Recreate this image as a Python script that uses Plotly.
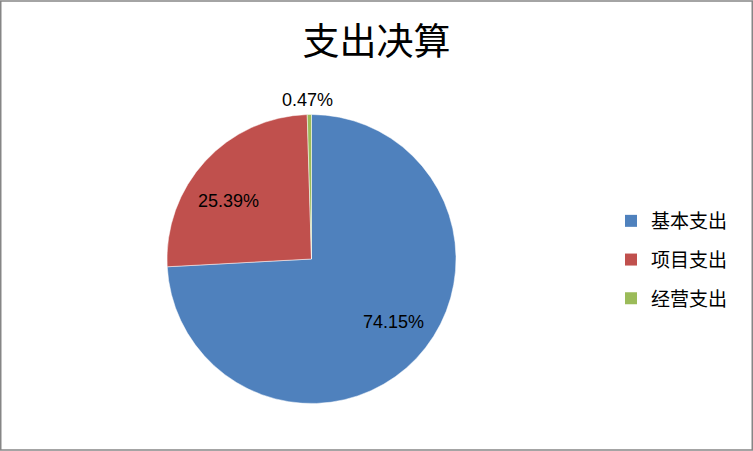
import math
import plotly.graph_objects as go

# 支出决算 data (percent of total)
labels = ["基本支出", "项目支出", "经营支出"]
values = [74.15, 25.39, 0.47]
colors = ["#4F81BD", "#C0504D", "#9BBB59"]

# label placement: distance (fraction of radius) and angular nudge (degrees)
label_radius = [0.715, 0.70, 1.10]
label_shift = [-5.6, -7.5, -0.5]

W, H = 753, 451
cjk = "Noto Sans CJK SC"
num_font = "Liberation Sans, Arial"

# pie placement (pixels)
cx, cy, R = 311.5, 259, 144.5

fig = go.Figure()

fig.add_trace(go.Pie(
    labels=labels,
    values=values,
    sort=False,
    direction="clockwise",
    rotation=0,
    marker=dict(colors=colors, line=dict(color="white", width=0.5)),
    textinfo="none",
    hoverinfo="label+percent",
    showlegend=False,
    domain=dict(x=[(cx - R) / W, (cx + R) / W], y=[1 - (cy + R) / H, 1 - (cy - R) / H]),
))

# legend entries with Excel-like spacing
for i, (lab, col) in enumerate(zip(labels, colors)):
    fig.add_trace(go.Scatter(
        x=[None], y=[None], mode="markers", name=lab,
        legendgroup=f"g{i}",
        marker=dict(symbol="square", size=12, color=col),
    ))

# data labels placed around the middle angle of each slice
total = sum(values)
annotations = []
cum = 0.0
for v, rf, sh in zip(values, label_radius, label_shift):
    mid = (cum + v / 2) / total * 2 * math.pi + math.radians(sh)
    cum += v
    px = cx + rf * R * math.sin(mid)
    py = cy - rf * R * math.cos(mid)
    annotations.append(dict(
        x=px / W, y=1 - py / H, xref="paper", yref="paper",
        xanchor="center", yanchor="middle",
        text=f"{v:.2f}%", showarrow=False,
        font=dict(family=num_font, size=18, color="black"),
    ))

fig.update_layout(
    width=W,
    height=H,
    margin=dict(l=0, r=0, t=0, b=0),
    paper_bgcolor="white",
    plot_bgcolor="white",
    xaxis=dict(visible=False),
    yaxis=dict(visible=False),
    title=dict(
        text="支出决算",
        x=0.5,
        xanchor="center",
        y=1 - 42 / H,
        yanchor="middle",
        font=dict(family=cjk, size=37, color="black"),
    ),
    legend=dict(
        x=611 / W,
        xanchor="left",
        y=1 - 260 / H,
        yanchor="middle",
        font=dict(family=cjk, size=19, color="black"),
        itemwidth=30,
        tracegroupgap=11,
    ),
    annotations=annotations,
    shapes=[dict(
        type="rect", xref="paper", yref="paper",
        x0=0.001, x1=0.999, y0=0.002, y1=0.998,
        line=dict(color="#868686", width=1.5),
    )],
)

fig.write_html(
    "out.html",
    config={"displayModeBar": False},
    post_script="document.body.style.margin='0';",
)
